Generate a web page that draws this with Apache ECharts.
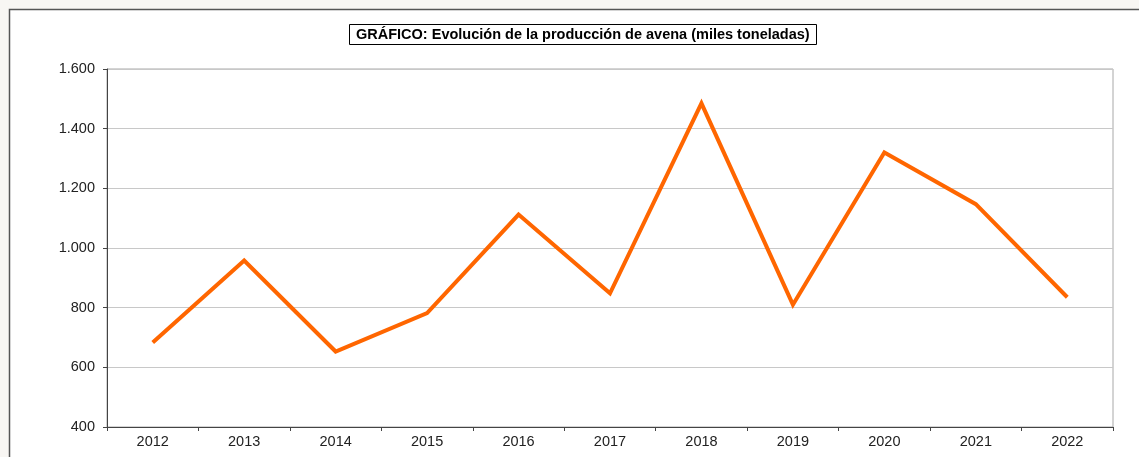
<!DOCTYPE html>
<html>
<head>
<meta charset="utf-8">
<script src="https://cdn.jsdelivr.net/npm/echarts@6/dist/echarts.min.js"></script>
<style>
html,body{margin:0;padding:0;background:#f8f6f3;}
#chart{width:1139px;height:457px;}
</style>
</head>
<body>
<div id="chart"></div>
<script>
const titleText = 'GRÁFICO: Evolución de la producción de avena (miles toneladas)';
const years = ['2012','2013','2014','2015','2016','2017','2018','2019','2020','2021','2022'];
const production = [683, 958, 653, 782, 1112, 848, 1485, 810, 1320, 1147, 835];
const yTicks = [400, 600, 800, 1000, 1200, 1400, 1600];

function fmt(v){ return String(v).replace(/\B(?=(\d{3})+(?!\d))/g, '.'); }

const chart = echarts.init(document.getElementById('chart'), null, {renderer:'canvas'});
chart.setOption({
  animation: false,
  backgroundColor: 'transparent',
  graphic: [{
    type: 'rect', z: -10, silent: true,
    shape: {x: 9.5, y: 9.5, width: 1300, height: 600},
    style: {fill: '#ffffff', stroke: '#555555', lineWidth: 1.5}
  }],
  title: {
    text: titleText,
    left: 349, top: 24,
    padding: [2, 7, 2, 7],
    borderColor: '#000', borderWidth: 1,
    backgroundColor: '#fff',
    textStyle: {fontFamily: 'Liberation Sans, Arial, sans-serif', fontSize: 14.5, fontWeight: 'bold', color: '#000', lineHeight: 17}
  },
  grid: {left: 107, right: 26, top: 69, bottom: 30, show: true, borderColor: '#a8a8a8', borderWidth: 1, backgroundColor: '#fff'},
  xAxis: {
    type: 'category', data: years, boundaryGap: true,
    axisLine: {lineStyle: {color: '#444', width: 1}},
    axisTick: {show: true, length: 4, inside: false, lineStyle: {color: '#444'}},
    axisLabel: {fontFamily: 'Liberation Sans, Arial, sans-serif', fontSize: 14.5, color: '#222', margin: 7}
  },
  yAxis: {
    type: 'value', min: 400, max: 1600, interval: 200,
    axisLine: {show: true, lineStyle: {color: '#444', width: 1}},
    axisTick: {show: true, length: 4, lineStyle: {color: '#444'}},
    splitLine: {lineStyle: {color: '#c8c8c8', width: 1}},
    axisLabel: {fontFamily: 'Liberation Sans, Arial, sans-serif', fontSize: 14.5, color: '#222', margin: 12,
      formatter: v => yTicks.includes(v) ? fmt(v) : ''}
  },
  series: [{
    type: 'line', data: production, showSymbol: false, symbol: 'none',
    lineStyle: {color: '#ff6600', width: 4, join: 'miter'},
    itemStyle: {color: '#ff6600'}
  }]
});
</script>
</body>
</html>
